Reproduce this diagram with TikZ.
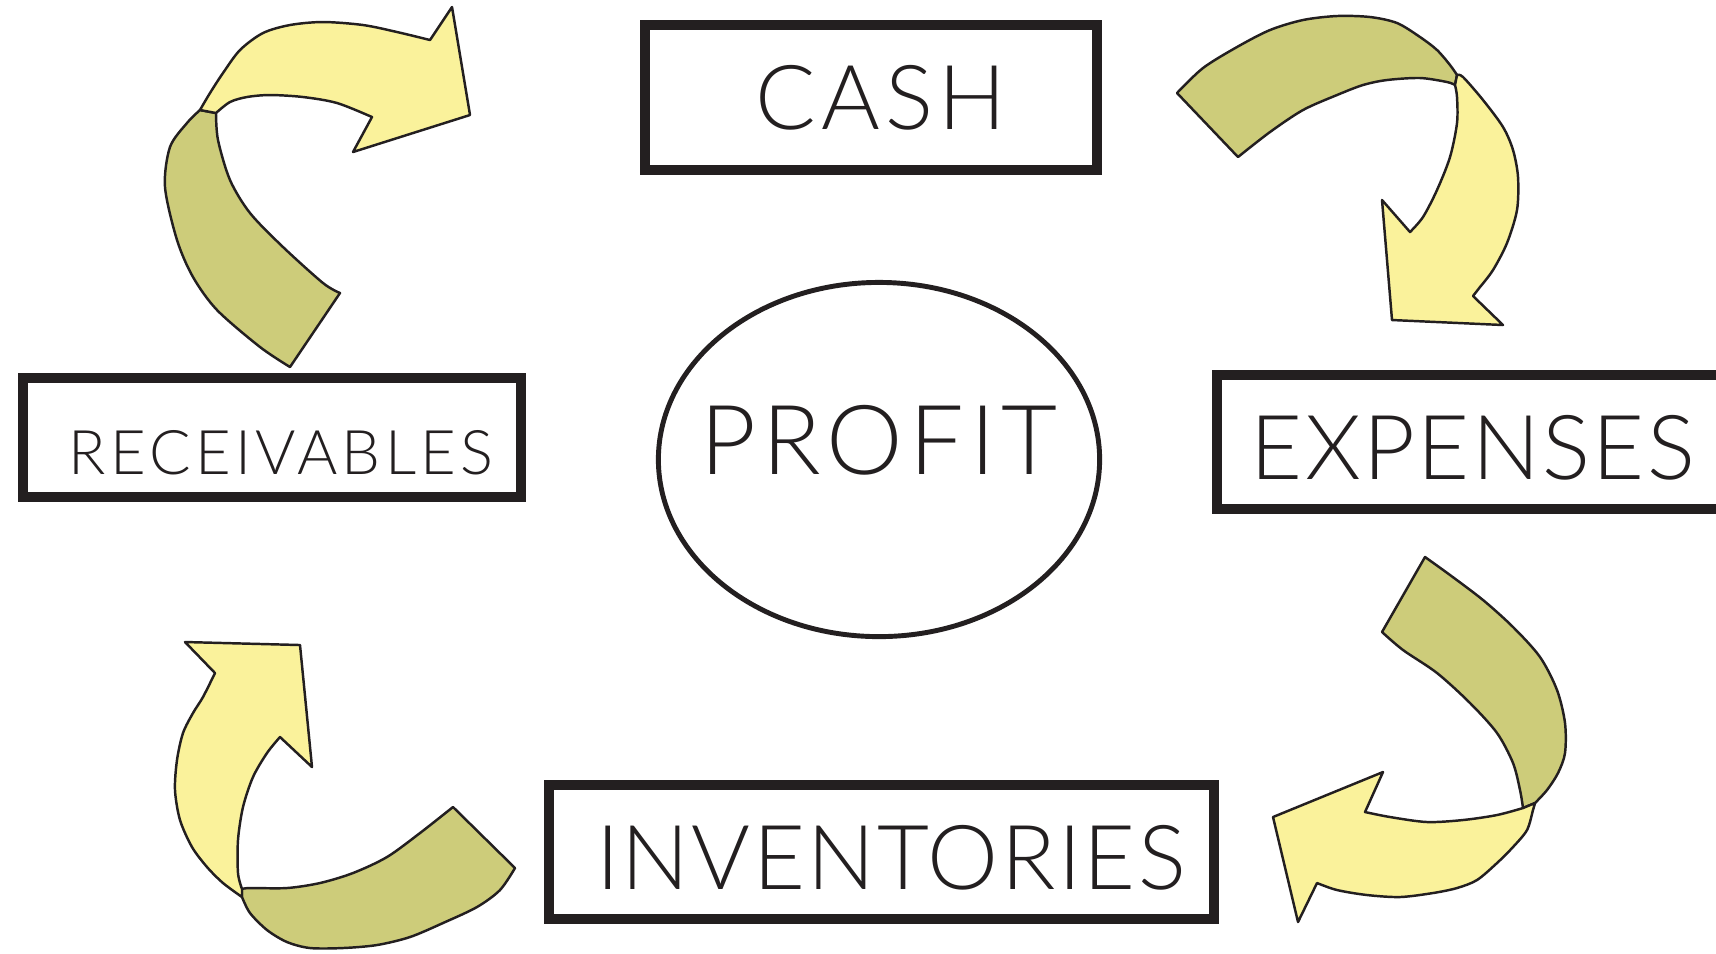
\documentclass[tikz,border=0pt]{standalone}
\usepackage{fontspec}
\setmainfont{Lato Light}
\usepackage{tikz}
\usetikzlibrary{shapes.geometric}
\usetikzlibrary{positioning}
\definecolor{boxline}{RGB}{35, 31, 32}
\definecolor{arrowdark}{RGB}{205, 204, 122}
\definecolor{arrowlight}{RGB}{250, 242, 155}
\tikzset{
  box/.style={draw=boxline, line width=2.8pt, inner sep=0pt},
  boxtext/.style={anchor=base, inner sep=0pt, text=boxline},
  darkpart/.style={fill=arrowdark, draw=boxline, line width=0.7pt, line join=round},
  lightpart/.style={fill=arrowlight, draw=boxline, line width=0.7pt, line join=round}
}

\begin{document}
\begin{tikzpicture}[x=0.01cm, y=-0.01cm]
  \useasboundingbox (0,0) rectangle (1716,953);

  % Arrow from receivables up to cash
  \filldraw[darkpart] (340,293) -- (290,367)
    -- plot[smooth] coordinates {(290,367) (260,347) (217,310) (193,277) (177,240) (165,187) (170,147) (187,123) (200,110)}
    -- (216,113)
    -- plot[smooth] coordinates {(216,113) (218,140) (230,180) (250,213) (283,247) (323,283) (340,293)} -- cycle;
  \filldraw[lightpart] (200,110)
    -- plot[smooth] coordinates {(200,110) (210,93) (223,73) (240,50) (263,33) (290,25) (323,22) (363,25) (397,32) (430,40)}
    -- (452,7) -- (470,115) -- (353,152) -- (372,117)
    -- plot[smooth] coordinates {(372,117) (337,103) (303,97) (270,95) (247,97) (230,102) (216,113)} -- cycle;

  % Arrow from cash down to expenses
  \filldraw[darkpart] (1238,157) -- (1177,93)
    -- plot[smooth] coordinates {(1177,93) (1203,68) (1237,47) (1270,30) (1303,20) (1337,16) (1370,17) (1397,23) (1420,37) (1437,50) (1450,65) (1457,75)}
    -- (1455,85)
    -- plot[smooth] coordinates {(1455,85) (1447,82) (1420,78) (1387,80) (1363,85) (1337,95) (1303,110) (1270,132) (1238,157)} -- cycle;
  \filldraw[lightpart] (1457,75)
    -- plot[smooth] coordinates {(1457,75) (1463,77) (1483,100) (1503,127) (1513,150) (1518,177) (1517,210) (1507,243) (1493,270) (1480,287)}
    -- (1473,296) -- (1503,325) -- (1392,320) -- (1382,200) -- (1410,232)
    -- plot[smooth] coordinates {(1410,232) (1423,217) (1437,190) (1450,157) (1457,123) (1457,97) (1455,85)} -- cycle;

  % Arrow from expenses down to inventories
  \filldraw[darkpart] (1382,632) -- (1425,557)
    -- plot[smooth] coordinates {(1425,557) (1450,575) (1483,600) (1513,627) (1540,657) (1557,690) (1565,723) (1565,753) (1558,773) (1547,790) (1535,803)}
    -- (1523,808)
    -- plot[smooth] coordinates {(1523,808) (1520,790) (1513,763) (1497,733) (1470,703) (1437,673) (1403,650) (1382,632)} -- cycle;
  \filldraw[lightpart] (1535,803)
    -- plot[smooth] coordinates {(1535,803) (1533,810) (1527,830) (1513,847) (1497,863) (1477,880) (1457,888) (1433,893) (1400,897) (1367,895) (1337,890) (1317,883)}
    -- (1298,922) -- (1273,817) -- (1383,772) -- (1365,812)
    -- plot[smooth] coordinates {(1365,812) (1390,817) (1427,822) (1463,820) (1497,815) (1523,808)} -- cycle;

  % Arrow from inventories up to receivables
  \filldraw[darkpart] (453,807) -- (515,868)
    -- plot[smooth] coordinates {(515,868) (500,890) (477,907) (443,923) (410,937) (377,945) (343,948) (310,948) (287,942) (267,930) (250,913) (242,897)}
    -- (242,889)
    -- plot[smooth] coordinates {(242,889) (250,888) (287,888) (320,883) (353,873) (387,857) (420,833) (453,807)} -- cycle;
  \filldraw[lightpart] (242,897)
    -- plot[smooth] coordinates {(242,897) (223,883) (207,867) (192,847) (180,820) (175,790) (177,760) (183,733) (193,713) (203,697) (215,673)}
    -- (185,642) -- (300,645) -- (312,767) -- (280,737)
    -- plot[smooth] coordinates {(280,737) (267,753) (253,777) (243,807) (238,840) (238,873) (242,889)} -- cycle;

  % Boxes
  \node[box, minimum width=4.52cm, minimum height=1.45cm] (cash) at (871,97.5) {};
  \node[box, minimum width=4.98cm, minimum height=1.19cm] (receivables) at (272,437.5) {};
  \node[box, minimum width=5.43cm, minimum height=1.34cm] (expenses) at (1488.5,442) {};
  \node[box, minimum width=6.65cm, minimum height=1.34cm] (inventories) at (881.5,852) {};
  \node[draw=boxline, line width=1.4pt, ellipse, inner sep=0pt, minimum width=4.41cm, minimum height=3.54cm] (profit) at (879,459.5) {};

  % Labels
  \node[boxtext, font=\fontsize{25.5}{30}\selectfont\addfontfeatures{LetterSpace=5.6}] (cashtext) at (881,129) {CASH};
  \node[boxtext, font=\fontsize{17.5}{22}\selectfont\addfontfeatures{LetterSpace=7.0}] (receivablestext) at (281,474) {RECEIVABLES};
  \node[boxtext, font=\fontsize{27.5}{32}\selectfont\addfontfeatures{LetterSpace=6.1}] (profittext) at (879,474) {PROFIT};
  \node[boxtext, font=\fontsize{25.5}{30}\selectfont\addfontfeatures{LetterSpace=2.7}] (expensestext) at (1473,479) {EXPENSES};
  \node[boxtext, font=\fontsize{25.5}{30}\selectfont\addfontfeatures{LetterSpace=2.6}] (inventoriestext) at (891,889) {INVENTORIES};
\end{tikzpicture}
\end{document}
